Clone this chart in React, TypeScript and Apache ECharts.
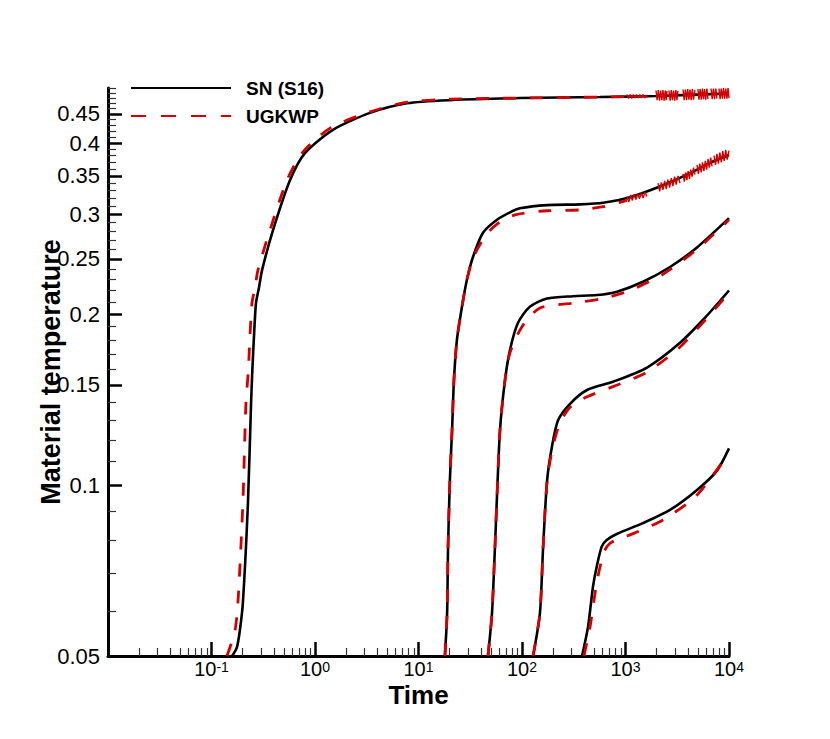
import React, { useEffect, useRef } from "react";
import * as echarts from "echarts";

// ---- axis ranges & ticks ----
const X_MIN = 0.01;
const X_MAX = 10000;
const Y_MIN = 0.05;
const Y_MAX = 0.5;
const X_TICK_EXPONENTS = [-1, 0, 1, 2, 3, 4];
const X_MINOR_MULTIPLIERS = [2, 3, 4, 5, 6, 7, 8, 9];
const Y_TICK_LABELS = [0.05, 0.1, 0.15, 0.2, 0.25, 0.3, 0.35, 0.4, 0.45];
const Y_MINOR_TICKS = [
  0.06, 0.07, 0.08, 0.09, 0.11, 0.12, 0.13, 0.14, 0.16, 0.17, 0.18, 0.19,
  0.21, 0.22, 0.23, 0.24, 0.26, 0.27, 0.28, 0.29, 0.31, 0.32, 0.33, 0.34,
  0.36, 0.37, 0.38, 0.39, 0.41, 0.42, 0.43, 0.44, 0.46, 0.47, 0.48, 0.49, 0.5,
];
const SERIES_NAMES = ["SN (S16)", "UGKWP"];
const X_TITLE = "Time";
const Y_TITLE = "Material temperature";

// ---- data: [time, material temperature] ----
const SN_1 = [
  [0.158, 0.05], [0.176, 0.0518], [0.188, 0.0555], [0.201, 0.062], [0.225, 0.093],
  [0.241, 0.139], [0.248, 0.159], [0.257, 0.182], [0.269, 0.209], [0.288, 0.223],
  [0.308, 0.239], [0.393, 0.281], [0.573, 0.344], [0.8, 0.384], [1.49, 0.422],
  [3.4, 0.452], [7.74, 0.47], [20.1, 0.476], [95.7, 0.48], [567, 0.482],
  [2000, 0.484], [10000, 0.489],
];
const UGKWP_1 = [
  [0.141, 0.05], [0.151, 0.0518], [0.169, 0.0555], [0.18, 0.062], [0.201, 0.093],
  [0.215, 0.139], [0.227, 0.159], [0.235, 0.182], [0.246, 0.209], [0.264, 0.223],
  [0.281, 0.239], [0.367, 0.281], [0.536, 0.344], [0.748, 0.384], [1.4, 0.425],
  [3.4, 0.454], [7.74, 0.472], [20.1, 0.478], [95.7, 0.48], [567, 0.482],
  [1033, 0.483],
];
// late-time statistical noise of UGKWP, curve 1 (blocks of oscillation)
const UGKWP_1_NOISE = [
  [[1033, 0.487], [1070, 0.479], [1110, 0.487], [1150, 0.479], [1190, 0.487], [1235, 0.48],
   [1280, 0.487], [1325, 0.48], [1375, 0.487], [1425, 0.48], [1475, 0.487], [1530, 0.48],
   [1585, 0.486], [1614, 0.481]],
  [[1972, 0.495], [2020, 0.476], [2075, 0.496], [2130, 0.475], [2185, 0.495], [2245, 0.476],
   [2300, 0.496], [2360, 0.475], [2420, 0.495], [2470, 0.476], [2518, 0.494]],
  [[2630, 0.495], [2700, 0.475], [2770, 0.496], [2840, 0.476], [2915, 0.495], [2990, 0.475],
   [3070, 0.496], [3140, 0.476], [3213, 0.494]],
  [[3597, 0.497], [3690, 0.476], [3790, 0.497], [3890, 0.476], [3990, 0.498], [4095, 0.477],
   [4200, 0.497], [4310, 0.476], [4420, 0.498], [4540, 0.477], [4688, 0.496]],
  [[5012, 0.498], [5130, 0.477], [5260, 0.498], [5390, 0.477], [5530, 0.499], [5670, 0.478],
   [5810, 0.498], [5960, 0.477], [6110, 0.499], [6266, 0.478]],
  [[6698, 0.499], [6880, 0.478], [7070, 0.499], [7260, 0.478], [7450, 0.499], [7656, 0.479]],
  [[8000, 0.499], [8200, 0.478], [8410, 0.499], [8630, 0.479], [8850, 0.5], [9080, 0.479],
   [9310, 0.499], [9550, 0.479], [9790, 0.5], [10000, 0.48]],
];

const SN_2 = [
  [18.0, 0.05], [18.9, 0.0595], [19.3, 0.0778], [20.1, 0.102], [21.1, 0.125],
  [22.0, 0.153], [23.5, 0.18], [26.3, 0.206], [29.4, 0.23], [33.6, 0.252],
  [42.0, 0.278], [57.3, 0.293], [76.6, 0.302], [95.7, 0.307], [175, 0.311],
  [363, 0.312], [607, 0.314], [1105, 0.321], [2301, 0.337], [4198, 0.354],
  [6546, 0.369], [10000, 0.381],
];
const UGKWP_2 = [
  [18.0, 0.05], [18.9, 0.0595], [19.3, 0.0778], [20.1, 0.102], [21.1, 0.125],
  [22.0, 0.153], [23.5, 0.18], [26.3, 0.206], [29.4, 0.23], [33.6, 0.251],
  [43.9, 0.274], [57.3, 0.288], [85.5, 0.299], [175, 0.304], [363, 0.305],
  [607, 0.309], [1033, 0.317],
];
const UGKWP_2_NOISE = [
  [[1033, 0.322], [1075, 0.315], [1120, 0.324], [1165, 0.317], [1210, 0.325], [1260, 0.318],
   [1310, 0.326], [1365, 0.319], [1420, 0.327], [1480, 0.32], [1545, 0.328], [1614, 0.322]],
  [[2061, 0.34], [2140, 0.329], [2220, 0.341], [2300, 0.331], [2390, 0.343], [2480, 0.332],
   [2570, 0.345], [2670, 0.334], [2770, 0.347], [2870, 0.336], [2980, 0.349], [3090, 0.338],
   [3210, 0.35], [3365, 0.34]],
  [[3597, 0.353], [3700, 0.342], [3810, 0.355], [3920, 0.344], [4030, 0.357], [4150, 0.346],
   [4270, 0.359], [4400, 0.349], [4540, 0.362], [4688, 0.352]],
  [[4909, 0.366], [5060, 0.353], [5220, 0.368], [5380, 0.355], [5550, 0.37], [5720, 0.357],
   [5900, 0.372], [6080, 0.359], [6270, 0.375], [6460, 0.362], [6660, 0.377], [6855, 0.364]],
  [[7166, 0.38], [7400, 0.366], [7640, 0.383], [7890, 0.368], [8150, 0.385], [8420, 0.37],
   [8700, 0.387], [8990, 0.372], [9290, 0.389], [9600, 0.374], [10000, 0.388]],
];

const SN_3 = [
  [46.9, 0.05], [51.3, 0.0595], [54.8, 0.0778], [57.3, 0.0953], [61.3, 0.125],
  [68.5, 0.153], [76.6, 0.173], [91.5, 0.193], [119, 0.206], [175, 0.213],
  [311, 0.215], [531, 0.216], [828, 0.219], [1476, 0.228], [2692, 0.242],
  [4909, 0.262], [10000, 0.295],
];
const UGKWP_3 = [
  [46.9, 0.05], [51.3, 0.0595], [54.8, 0.0778], [57.3, 0.0953], [61.3, 0.125],
  [68.5, 0.153], [76.6, 0.171], [100, 0.19], [149, 0.205], [311, 0.209],
  [607, 0.213], [1105, 0.22], [2301, 0.235], [4909, 0.26], [10000, 0.293],
];

const SN_4 = [
  [128, 0.05], [149, 0.0595], [160, 0.0778], [175, 0.102], [195, 0.117],
  [223, 0.13], [291, 0.139], [425, 0.147], [757, 0.152], [1614, 0.161],
  [3365, 0.178], [5861, 0.197], [10000, 0.22],
];
const UGKWP_4 = [
  [128, 0.05], [149, 0.0595], [160, 0.0778], [175, 0.102], [197, 0.116],
  [230, 0.128], [291, 0.137], [425, 0.143], [757, 0.149], [1614, 0.158],
  [3365, 0.175], [5861, 0.195], [10000, 0.218],
];

const SN_5 = [
  [380, 0.05], [434, 0.0562], [485, 0.0662], [527, 0.0718], [589, 0.0779],
  [658, 0.08], [822, 0.082], [1476, 0.0857], [2692, 0.0904], [4909, 0.098],
  [7656, 0.106], [10000, 0.116],
];
const UGKWP_5 = [
  [397, 0.05], [454, 0.0562], [519, 0.0662], [560, 0.071], [625, 0.0765],
  [700, 0.0788], [860, 0.0805], [1105, 0.0817], [2301, 0.0868], [4909, 0.096],
  [10000, 0.114],
];

const SN_CURVES = [SN_1, SN_2, SN_3, SN_4, SN_5];
const UGKWP_CURVES = [UGKWP_1, UGKWP_2, UGKWP_3, UGKWP_4, UGKWP_5];
const UGKWP_NOISE = [UGKWP_1_NOISE, UGKWP_2_NOISE];

const FONT = '"Liberation Sans", Arial, Helvetica, sans-serif';
const RED = "#d40000";
const lg = Math.log10;

const toLog = (pts: number[][]) => pts.map(([t, T]) => [lg(t), lg(T)]);
const blocksToLog = (blocks: number[][][]) => {
  const out: any[] = [];
  blocks.forEach((b, i) => {
    if (i > 0) out.push(["-", "-"]);
    toLog(b).forEach((p) => out.push(p));
  });
  return out;
};

const xMinor: number[] = [];
for (let e = -2; e < 4; e++) {
  for (const m of X_MINOR_MULTIPLIERS) xMinor.push(lg(m) + e);
}
const yMajor = Y_TICK_LABELS.map((v) => lg(v));
const yMinor = Y_MINOR_TICKS.map((v) => lg(v));

function yLabel(v: number) {
  for (const l of Y_TICK_LABELS) if (Math.abs(lg(l) - v) < 1e-6) return String(l);
  return "";
}

function buildOption() {
  const series: any[] = [];
  SN_CURVES.forEach((c) =>
    series.push({
      name: SERIES_NAMES[0],
      type: "line",
      data: toLog(c),
      symbol: "none",
      smooth: 0.25,
      lineStyle: { color: "#000", width: 2.6, type: "solid" },
      itemStyle: { color: "#000" },
      z: 3,
    })
  );
  UGKWP_CURVES.forEach((c) =>
    series.push({
      name: SERIES_NAMES[1],
      type: "line",
      data: toLog(c),
      symbol: "none",
      smooth: 0.25,
      lineStyle: { color: RED, width: 2.8, type: [13, 14] },
      itemStyle: { color: RED },
      z: 4,
    })
  );
  UGKWP_NOISE.forEach((blocks) =>
    series.push({
      name: SERIES_NAMES[1] + " noise",
      type: "line",
      data: blocksToLog(blocks),
      symbol: "none",
      connectNulls: false,
      lineStyle: { color: RED, width: 1.4, type: "solid" },
      itemStyle: { color: RED },
      z: 4,
    })
  );

  const axisMin = { x: lg(X_MIN), y: lg(Y_MIN) };
  const axisMax = { x: lg(X_MAX), y: lg(Y_MAX) };

  return {
    animation: false,
    backgroundColor: "#fff",
    grid: { left: 108, right: 101, top: 88, bottom: 83, outerBoundsMode: "none" },
    legend: {
      orient: "vertical",
      left: 130,
      top: 78,
      padding: 0,
      itemWidth: 100,
      itemHeight: 20,
      itemGap: 8,
      itemStyle: { opacity: 0 },
      data: [
        { name: SERIES_NAMES[0] },
        { name: SERIES_NAMES[1], lineStyle: { type: [15, 15] } },
      ],
      textStyle: {
        fontSize: 19,
        fontWeight: "bold",
        color: "#000",
        fontFamily: FONT,
        padding: [0, 0, 0, 10],
        lineHeight: 20,
      },
    },
    xAxis: [
      {
        type: "value",
        min: axisMin.x,
        max: axisMax.x,
        position: "bottom",
        name: X_TITLE,
        nameLocation: "middle",
        nameGap: 26,
        nameMoveOverlap: false,
        nameTextStyle: { fontSize: 26, fontWeight: "bold", color: "#000", fontFamily: FONT, lineHeight: 26 },
        axisLine: { show: true, onZero: false, lineStyle: { color: "#000", width: 3 } },
        axisTick: {
          show: true,
          inside: true,
          length: 14,
          lineStyle: { color: "#000", width: 2.5 },
          customValues: X_TICK_EXPONENTS,
        },
        axisLabel: {
          customValues: X_TICK_EXPONENTS,
          margin: 4,
          formatter: (v: number) => `{b|10}{s|${Math.round(v)}}`,
          rich: {
            b: { fontSize: 20, color: "#000", fontFamily: FONT, lineHeight: 18 },
            s: { fontSize: 14, color: "#000", fontFamily: FONT, verticalAlign: "top", lineHeight: 9 },
          },
        },
        splitLine: { show: false },
      },
      {
        type: "value",
        min: axisMin.x,
        max: axisMax.x,
        position: "bottom",
        axisLine: { show: false, onZero: false },
        axisTick: {
          show: true,
          inside: true,
          length: 8,
          lineStyle: { color: "#333", width: 1.2 },
          customValues: xMinor,
        },
        axisLabel: { show: false, customValues: xMinor },
        splitLine: { show: false },
      },
    ],
    yAxis: [
      {
        type: "value",
        min: axisMin.y,
        max: axisMax.y,
        position: "left",
        name: Y_TITLE,
        nameLocation: "middle",
        nameGap: 44,
        nameMoveOverlap: false,
        nameRotate: 90,
        nameTextStyle: { fontSize: 27, fontWeight: "bold", color: "#000", fontFamily: FONT },
        axisLine: { show: true, onZero: false, lineStyle: { color: "#000", width: 3 } },
        axisTick: {
          show: true,
          inside: true,
          length: 14,
          lineStyle: { color: "#000", width: 2.5 },
          customValues: yMajor,
        },
        axisLabel: {
          customValues: yMajor,
          margin: 8,
          formatter: yLabel,
          fontSize: 22,
          color: "#000",
          fontFamily: FONT,
        },
        splitLine: { show: false },
      },
      {
        type: "value",
        min: axisMin.y,
        max: axisMax.y,
        position: "left",
        axisLine: { show: false, onZero: false },
        axisTick: {
          show: true,
          inside: true,
          length: 8,
          lineStyle: { color: "#333", width: 1.2 },
          customValues: yMinor,
        },
        axisLabel: { show: false, customValues: yMinor },
        splitLine: { show: false },
      },
    ],
    series,
  };
}

export default function App() {
  const ref = useRef<HTMLDivElement>(null);
  useEffect(() => {
    document.body.style.margin = "0";
    const chart = echarts.init(ref.current as HTMLDivElement, null, { renderer: "svg" });
    chart.setOption(buildOption() as any);
    return () => chart.dispose();
  }, []);
  return <div ref={ref} style={{ width: 830, height: 739, background: "#fff" }} />;
}
